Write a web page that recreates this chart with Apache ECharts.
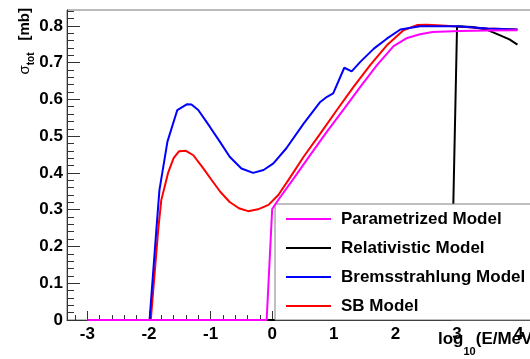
<!DOCTYPE html>
<html>
<head>
<meta charset="utf-8">
<script src="https://cdn.jsdelivr.net/npm/echarts@6/dist/echarts.min.js"></script>
<style>
  html, body { margin: 0; padding: 0; background: #fff; }
  #main { width: 530px; height: 359px; }
</style>
</head>
<body>
<div id="main"></div>
<script>
var FONT = 'Liberation Sans';

// tick labels
var xMajorTicks = [-3, -2, -1, 0, 1, 2, 3, 4];
var yMajorTicks = [0, 0.1, 0.2, 0.3, 0.4, 0.5, 0.6, 0.7, 0.8];

// Parametrized Model
var paramE     = [-3, -0.09, 0.0, 0.1, 0.35, 0.61, 0.88, 1.16, 1.43, 1.70, 1.97, 2.19, 2.40, 2.60, 3.05, 3.50, 3.98];
var paramSigma = [0, 0, 0.302, 0.327, 0.385, 0.447, 0.51, 0.573, 0.634, 0.693, 0.745, 0.767, 0.777, 0.783, 0.786, 0.787, 0.788];

// Relativistic Model
var relE     = [-3, 2.90, 3.00, 3.25, 3.49, 3.70, 3.85, 3.98];
var relSigma = [0, 0, 0.799, 0.797, 0.789, 0.774, 0.763, 0.749];

// Bremsstrahlung Model
var bremE     = [-3, -1.99, -1.88, -1.83, -1.70, -1.54, -1.38, -1.31, -1.20, -1.01, -0.85, -0.69, -0.50, -0.31, -0.14, 0.02, 0.23, 0.51, 0.78, 0.89, 0.99, 1.17, 1.29, 1.43, 1.65, 1.86, 2.08, 2.40, 3.00, 3.49, 3.98];
var bremSigma = [0, 0, 0.245, 0.353, 0.485, 0.571, 0.587, 0.586, 0.571, 0.525, 0.485, 0.444, 0.412, 0.400, 0.408, 0.426, 0.467, 0.534, 0.593, 0.607, 0.616, 0.686, 0.676, 0.702, 0.738, 0.765, 0.790, 0.799, 0.799, 0.793, 0.790];

// SB Model
var sbE     = [-3, -1.97, -1.85, -1.80, -1.69, -1.60, -1.51, -1.40, -1.28, -1.13, -0.98, -0.84, -0.69, -0.54, -0.39, -0.23, -0.06, 0.10, 0.30, 0.51, 0.78, 1.05, 1.32, 1.59, 1.86, 2.13, 2.35, 2.50, 2.75, 3.00, 3.50, 3.98];
var sbSigma = [0, 0, 0.245, 0.326, 0.40, 0.44, 0.459, 0.46, 0.448, 0.415, 0.380, 0.348, 0.321, 0.304, 0.296, 0.301, 0.313, 0.340, 0.39, 0.444, 0.507, 0.571, 0.634, 0.693, 0.747, 0.788, 0.802, 0.803, 0.801, 0.798, 0.793, 0.790];

function pairs(xs, ys) {
  return xs.map(function (x, i) { return [x, ys[i]]; });
}

// minor tick positions
var xMinorTicks = [];
for (var i = -16; i <= 21; i++) { if (i % 5 !== 0) xMinorTicks.push(Math.round(i * 20) / 100); }
var yMinorTicks = [];
for (var j = 1; j <= 42; j++) { if (j % 5 !== 0) yMinorTicks.push(Math.round(j * 2) / 100); }

var X_MIN = -3.33, X_MAX = 4.33, Y_MIN = 0, Y_MAX = 0.843;
var axisColor = '#333';

var myChart = echarts.init(document.getElementById('main'), null, { renderer: 'canvas' });

var option = {
  animation: false,
  backgroundColor: '#fff',
  grid: { left: 67, top: 10, right: -9, bottom: 39, outerBoundsMode: 'none', containLabel: false,
          show: true, borderColor: '#777', borderWidth: 1, backgroundColor: 'transparent' },
  legend: {
    orient: 'vertical', left: 275, top: 204,
    padding: [5, 20, 4, 11], itemGap: 9, itemWidth: 45, itemHeight: 2, icon: 'rect',
    backgroundColor: '#fff', borderColor: '#808080', borderWidth: 1,
    textStyle: { fontSize: 17, fontWeight: 'bold', fontFamily: FONT, color: '#000', lineHeight: 20, padding: [0, 0, 0, 5] },
    data: ['Parametrized Model', 'Relativistic Model', 'Bremsstrahlung Model', 'SB Model']
  },
  graphic: [
    {
      // x axis title
      type: 'text', x: 438, y: 330.5, z: 10,
      style: {
        text: '{a|log}{s|10}{a|(E/MeV)}', align: 'left', verticalAlign: 'top',
        rich: {
          a: { fontSize: 17, fontWeight: 'bold', fontFamily: FONT, fill: '#000', lineHeight: 17, verticalAlign: 'top' },
          s: { fontSize: 11, fontWeight: 'bold', fontFamily: FONT, fill: '#000', verticalAlign: 'bottom', padding: [16, 0, 0, 0] }
        }
      }
    },
    {
      // y axis title
      type: 'text', x: 17.5, y: 8, rotation: Math.PI / 2, z: 10,
      style: {
        text: '{g|σ}{sub|tot}{m|[mb]}', align: 'right', verticalAlign: 'top',
        rich: {
          g: { fontSize: 15, fontFamily: FONT, fill: '#000', lineHeight: 16, verticalAlign: 'top' },
          sub: { fontSize: 10, fontWeight: 'bold', fontFamily: FONT, fill: '#000', verticalAlign: 'bottom', padding: [8.5, 0, 0, 0] },
          m: { fontSize: 15, fontWeight: 'bold', fontFamily: FONT, fill: '#000', lineHeight: 16, verticalAlign: 'top', padding: [0, 0, 0, 12] }
        }
      }
    }
  ],
  xAxis: [
    {
      type: 'value', min: X_MIN, max: X_MAX, position: 'bottom',
      axisLine: { show: true, onZero: false, lineStyle: { color: axisColor, width: 1 } },
      axisTick: { show: true, inside: true, length: 9, customValues: xMajorTicks, lineStyle: { color: axisColor } },
      axisLabel: { customValues: xMajorTicks, margin: 6, fontSize: 17, fontWeight: 'bold', fontFamily: FONT, color: '#000' },
      splitLine: { show: false }
    },
    {
      type: 'value', min: X_MIN, max: X_MAX, position: 'bottom',
      axisLine: { show: false, onZero: false },
      axisTick: { show: true, inside: true, length: 5, customValues: xMinorTicks, lineStyle: { color: axisColor } },
      axisLabel: { show: false },
      splitLine: { show: false }
    }
  ],
  yAxis: [
    {
      type: 'value', min: Y_MIN, max: Y_MAX, position: 'left',
      axisLine: { show: true, onZero: false, lineStyle: { color: axisColor, width: 1 } },
      axisTick: { show: true, inside: true, length: 13, customValues: yMajorTicks, lineStyle: { color: axisColor } },
      axisLabel: { customValues: yMajorTicks, margin: 4, fontSize: 17, fontWeight: 'bold', fontFamily: FONT, color: '#000' },
      splitLine: { show: false }
    },
    {
      type: 'value', min: Y_MIN, max: Y_MAX, position: 'left',
      axisLine: { show: false, onZero: false },
      axisTick: { show: true, inside: true, length: 7, customValues: yMinorTicks, lineStyle: { color: axisColor } },
      axisLabel: { show: false },
      splitLine: { show: false }
    }
  ],
  series: [
    { name: 'SB Model', type: 'line', z: 2, symbol: 'none', lineStyle: { color: '#ff0000', width: 2 }, itemStyle: { color: '#ff0000' }, data: pairs(sbE, sbSigma) },
    { name: 'Relativistic Model', type: 'line', z: 3, symbol: 'none', lineStyle: { color: '#000000', width: 2 }, itemStyle: { color: '#000000' }, data: pairs(relE, relSigma) },
    { name: 'Bremsstrahlung Model', type: 'line', z: 4, symbol: 'none', lineStyle: { color: '#0000ff', width: 2 }, itemStyle: { color: '#0000ff' }, data: pairs(bremE, bremSigma) },
    { name: 'Parametrized Model', type: 'line', z: 5, symbol: 'none', lineStyle: { color: '#ff00ff', width: 2 }, itemStyle: { color: '#ff00ff' }, data: pairs(paramE, paramSigma) }
  ]
};

myChart.setOption(option);
</script>
</body>
</html>
